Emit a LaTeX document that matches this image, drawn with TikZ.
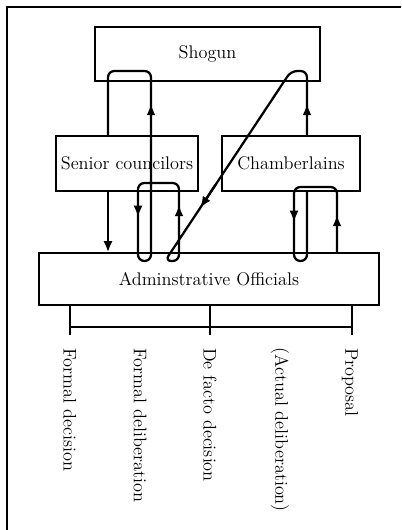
\documentclass[tikz,border=0pt]{standalone}
\usepackage{fontspec}
\usepackage{tikz}
\usetikzlibrary{arrows.meta,calc}

\tikzset{
  >={Latex[length=8pt,width=6.5pt]},
  box/.style={draw, line width=0.9pt, inner sep=0pt, font=\fontsize{13}{15}\selectfont},
  flow/.style={line width=1.6pt, rounded corners=4.5pt},
  tick/.style={line width=0.9pt},
  lab/.style={rotate=-90, anchor=west, inner sep=0pt, font=\fontsize{13}{15}\selectfont}
}

\begin{document}
\begin{tikzpicture}[x=0.025cm, y=-0.025cm]
\useasboundingbox (0,0) rectangle (401,530);
% рамка
\draw [line width=0.9pt] (401,7) -- (7,7) -- (7,530);
% блоки
\node [box, minimum width=5.625cm, minimum height=1.35cm] (shogun) at (207.5,54) {Shogun};
\node [box, minimum width=3.55cm, minimum height=1.375cm] (senior) at (127,163.5) {Senior councilors};
\node [box, minimum width=3.45cm, minimum height=1.375cm] (chamb) at (291,163.5) {Chamberlains};
\node [box, minimum width=8.5cm, minimum height=1.3cm] (admin) at (209,279) {Adminstrative Officials};
% опорные точки
\coordinate (a) at (108,0);
\coordinate (b) at (138,0);
\coordinate (c) at (151,0);
\coordinate (d) at (179,0);
\coordinate (g) at (307,0);
\coordinate (h) at (294,0);
\coordinate (k) at (337,0);
\coordinate (dgT) at (291,71);
\coordinate (dgB) at (165,261);
% линии
\draw [flow] (k |- admin.north) -- (k |- 0,187) -- (h |- 0,187) -- (h |- 0,261) -- (g |- 0,261) -- (g |- chamb.south);
\draw [flow] (g |- chamb.north) -- (g |- dgT) -- (dgT) -- (dgB) -- (d |- dgB) -- (d |- 0,183) -- (b |- 0,183)
  -- (b |- 0,261) -- (c |- 0,261) -- (c |- 0,71) -- (a |- 0,71) -- (a |- senior.north);
\draw [flow,->] (a |- senior.south) -- (a |- admin.north);
% стрелки
\draw [flow,->] (k |- 0,235) -- (k |- 0,215);
\draw [flow,->] (h |- 0,205) -- (h |- 0,222);
\draw [flow,->] (g |- 0,120) -- (g |- 0,104);
\draw [flow,->] ($(dgT)!0.6!(dgB)$) -- ($(dgT)!0.72!(dgB)$);
\draw [flow,->] (d |- 0,225) -- (d |- 0,205);
\draw [flow,->] (b |- 0,200) -- (b |- 0,217);
\draw [flow,->] (c |- 0,120) -- (c |- 0,104);
% отводы
\coordinate (t1) at (70,335);
\coordinate (t2) at (210,335);
\coordinate (t3) at (352,335);
\draw [tick] (t1 |- admin.south) -- (t1);
\draw [tick] (t2 |- admin.south) -- (t2);
\draw [tick] (t3 |- admin.south) -- (t3);
\draw [tick] (t1 |- 0,327) -- (t3 |- 0,327);
% подписи
\node [lab] (l1) at (70,348) {Formal decision};
\node [lab] (l2) at (140,348) {Formal deliberation};
\node [lab] (l3) at (210,348) {De facto decision};
\node [lab] (l4) at (280,347) {(Actual deliberation)};
\node [lab] (l5) at (350,348) {Proposal};
\end{tikzpicture}
\end{document}
